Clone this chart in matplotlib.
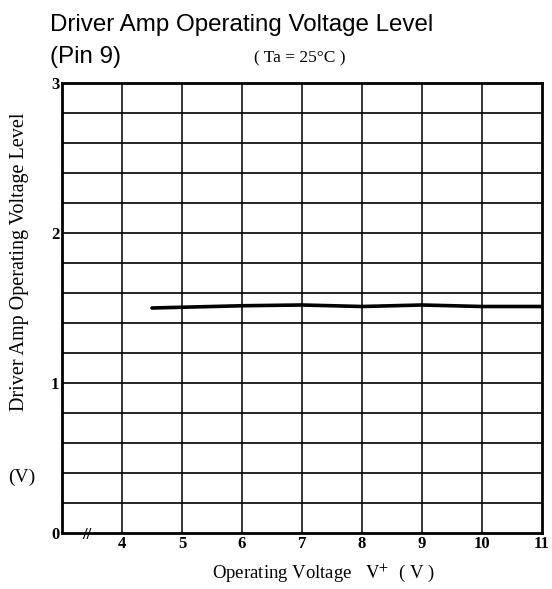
import matplotlib
matplotlib.use('Agg')
import matplotlib.pyplot as plt
import numpy as np

# data
volts = [4.5, 5, 6, 7, 8, 9, 10, 11]
level = [1.50, 1.505, 1.515, 1.52, 1.51, 1.52, 1.51, 1.51]

xticks = [4, 5, 6, 7, 8, 9, 10, 11]
yticks = [0, 1, 2, 3]

serif = ['Liberation Serif', 'DejaVu Serif']
sans = ['Liberation Sans Narrow', 'Liberation Sans', 'DejaVu Sans']
plt.rcParams['mathtext.fontset'] = 'stix'

fig = plt.figure(figsize=(5.52, 5.89), dpi=100)
ax = fig.add_axes([62/552, 1-533/589, 480/552, 450/589])

ax.set_xlim(3, 11)
ax.set_ylim(0, 3)

# grid
for x in range(4, 11):
    ax.axvline(x, color='k', lw=1.1, zorder=1)
for y in np.arange(0.2, 3.0, 0.2):
    ax.axhline(y, color='k', lw=1.2, zorder=1)

ax.plot(volts, level, color='k', lw=2.6, solid_capstyle='round', zorder=3)

for s in ax.spines.values():
    s.set_linewidth(2.0)

ax.set_xticks(xticks)
ax.set_yticks(yticks)
ax.tick_params(length=0, pad=2)
for lab in ax.get_xticklabels() + ax.get_yticklabels():
    lab.set_family(serif)
    lab.set_fontsize(12)
    lab.set_fontweight('bold')

# axis break mark, crossing the bottom spine
ax.text(3.42, -0.012, '//', family=serif, fontsize=12, ha='center', va='center',
        fontweight='bold', zorder=4, clip_on=False)

fig.text(323/552, 1-573/589, 'Operating Voltage   $\\mathrm{V}^{+}$  ( V )', family=serif,
         fontsize=13.5, ha='center', va='center')
fig.text(20/552, 1-262/589, 'Driver Amp Operating Voltage Level', family=serif,
         fontsize=14.5, rotation=90, ha='center', va='center')
fig.text(22/552, 1-477/589, '(V)', family=serif, fontsize=14, ha='center', va='center')

fig.text(50/552, 1-25/589, 'Driver Amp Operating Voltage Level', family=sans,
         fontsize=17.4, ha='left', va='center')
fig.text(50/552, 1-57/589, '(Pin 9)', family=sans, fontsize=17.4, ha='left', va='center')
fig.text(300/552, 1-58/589, '( Ta = 25°C )', family=serif, fontsize=12.5, ha='center', va='center')

fig.savefig('out.png', dpi=100)
